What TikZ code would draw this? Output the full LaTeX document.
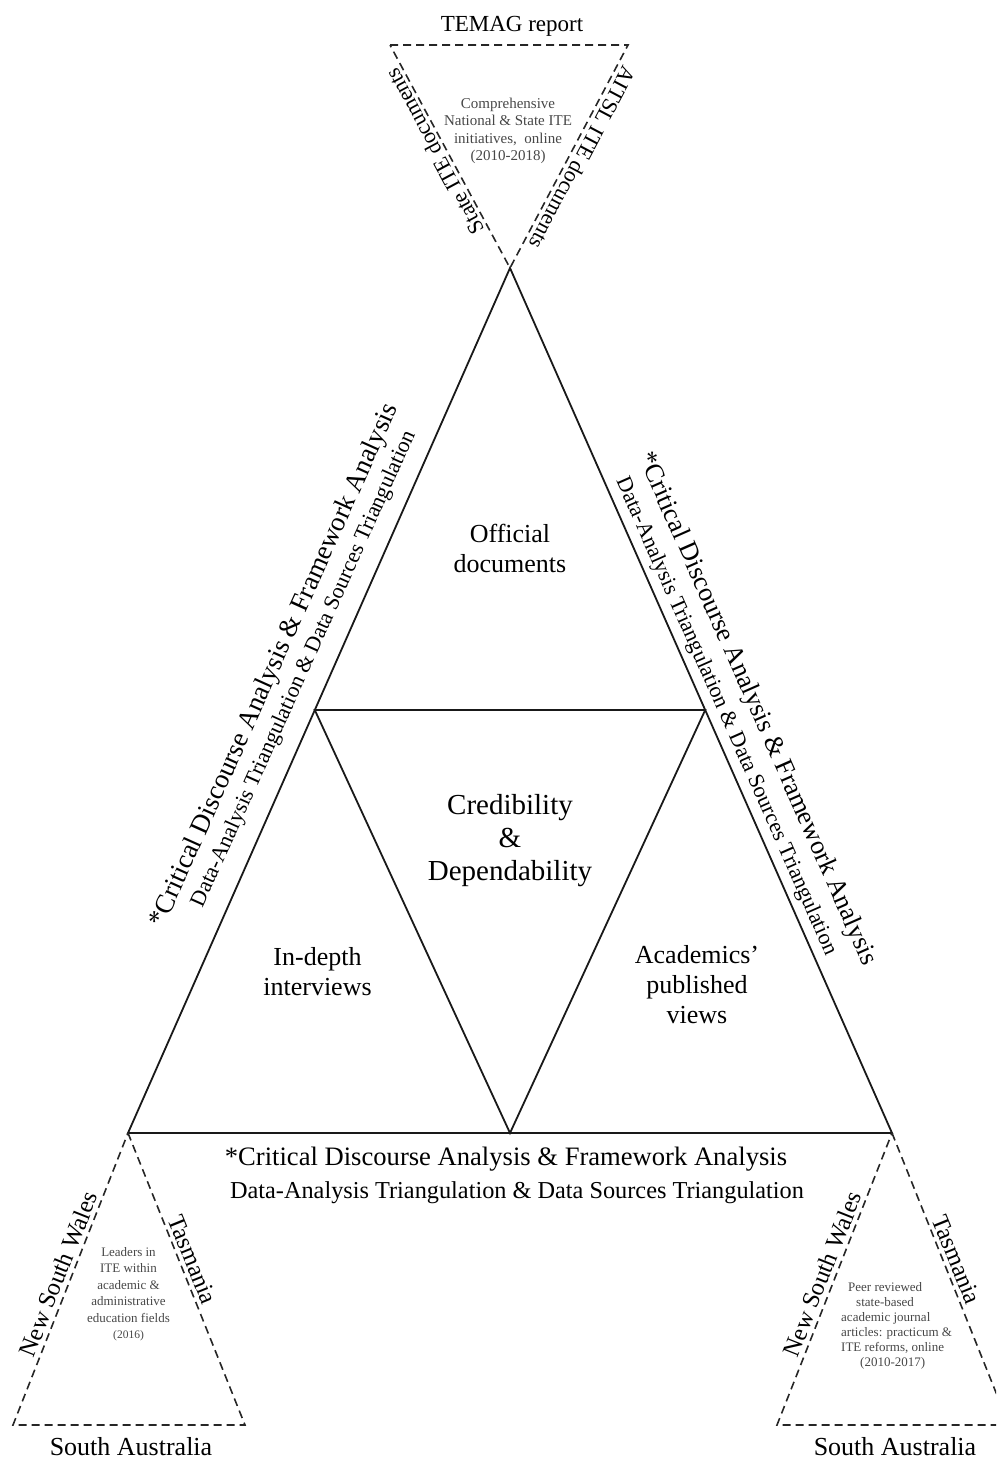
\documentclass[tikz,border=0pt]{standalone}
\usepackage{fontspec}
\setmainfont{Liberation Serif}
\usetikzlibrary{calc}
\begin{document}
\begin{tikzpicture}[x=1pt,y=-1pt,
  solidedge/.style={line width=1.8pt, draw=black!90, line join=miter},
  dashedge/.style={line width=1.6pt, draw=black!85, dash pattern=on 8pt off 5pt, line join=miter},
  region/.style={align=center, inner sep=0pt, anchor=base, font=\fontsize{26}{30}\selectfont},
  centre/.style={align=center, inner sep=0pt, anchor=base, font=\fontsize{29}{33}\selectfont},
  sidebig/.style={inner sep=0pt, anchor=base, font=\fontsize{27}{30}\selectfont},
  sidesmall/.style={inner sep=0pt, anchor=base, font=\fontsize{22}{26}\selectfont},
  edgelabel/.style={inner sep=0pt, anchor=base, font=\fontsize{22}{26}\selectfont},
  statelabel/.style={inner sep=0pt, anchor=base, font=\fontsize{24.5}{28}\selectfont},
  sourcenote/.style={inner sep=0pt, text=black!72, font=\fontsize{13}{16.5}\selectfont},
]
\useasboundingbox (0,0) rectangle (996,1461);
\clip (0,0) rectangle (996,1461);

% main triangle and the inverted inner triangle
\coordinate (A)  at (510,268);
\coordinate (BL) at (128,1133);
\coordinate (BR) at (892,1133);
\coordinate (IL) at ($(A)!0.511!(BL)$);
\coordinate (IR) at ($(A)!0.511!(BR)$);
\coordinate (IB) at (510,1133);
\draw[solidedge] (A) -- (BR) -- (BL) -- cycle;
\draw[solidedge] (IL) -- (IR) -- (IB) -- cycle;

% dashed source triangles
\coordinate (TL) at (390,45);
\coordinate (TR) at (628,45);
\coordinate (L1) at (13,1425);
\coordinate (L2) at (245,1425);
\coordinate (R1) at (777,1425);
\coordinate (R2) at (1009,1425);
\draw[dashedge] (TL) -- (TR) -- (A) -- cycle;
\draw[dashedge] (BL) -- (L2) -- (L1) -- cycle;
\draw[dashedge] (BR) -- (R2) -- (R1) -- cycle;

% region labels (placed by the baseline of their last line)
\node[region] (official) at (510,572) {Official\\documents};
\node[centre] (cred) at (510,880) {Credibility\\\&\\Dependability};
\node[region] (interviews) at (317.5,995) {In-depth\\interviews};
\node[region] (academics) at (697,1023) {Academics’\\published\\views};

% analysis labels along the three sides
\node[sidebig, rotate=65.8] (leftA) at ($(BL)!0.515!(A)!48pt!90:(A)$)
  {*Critical Discourse Analysis \& Framework Analysis};
\node[sidesmall, rotate=65.8] (leftB) at ($(BL)!0.524!(A)!21pt!90:(A)$)
  {Data-Analysis Triangulation \& Data Sources Triangulation};
\node[sidebig, font=\fontsize{26.4}{30}\selectfont, rotate=-66.17] (rightA) at ($(A)!0.532!(BR)!41pt!90:(BR)$)
  {*Critical Discourse Analysis \& Framework Analysis};
\node[sidesmall, rotate=-66.17] (rightB) at ($(A)!0.526!(BR)!11pt!90:(BR)$)
  {Data-Analysis Triangulation \& Data Sources Triangulation};
\node[sidebig, font=\fontsize{26.6}{30}\selectfont] (bottomA) at (506,1165)
  {*Critical Discourse Analysis \& Framework Analysis};
\node[sidebig, font=\fontsize{24.3}{30}\selectfont] (bottomB) at (517,1198)
  {Data-Analysis Triangulation \& Data Sources Triangulation};

% top source triangle
\node[edgelabel, font=\fontsize{23}{26}\selectfont] (temag) at (512,32) {TEMAG report};
\node[edgelabel, rotate=118.3] (stateite) at ($(A)!0.547!(TL)!4pt!90:(TL)$) {State ITE documents};
\node[edgelabel, rotate=-117.9] (aitsl) at ($(A)!0.52!(TR)!5pt!-90:(TR)$) {AITSL ITE documents};
\node[sourcenote, align=center, font=\fontsize{15}{17.5}\selectfont] (national) at (508,131)
  {Comprehensive\\National \& State ITE\\initiatives,~ online\\(2010-2018)};

% bottom-left source triangle
\node[statelabel, rotate=68.37] (nswL) at ($(L1)!0.5!(BL)!5pt!90:(BL)$) {New South Wales};
\node[statelabel, rotate=-68.0] (tasL) at ($(BL)!0.45!(L2)!5pt!90:(L2)$) {Tasmania};
\node[statelabel, font=\fontsize{26}{30}\selectfont] (saL) at (131,1455) {South Australia};
\node[sourcenote, align=center] (leaders) at (128.5,1294)
  {Leaders in\\ITE within\\academic \&\\administrative\\education fields\\{\fontsize{11.5}{16.5}\selectfont(2016)}};

% bottom-right source triangle
\node[statelabel, rotate=68.37] (nswR) at ($(R1)!0.5!(BR)!5pt!90:(BR)$) {New South Wales};
\node[statelabel, rotate=-68.0] (tasR) at ($(BR)!0.45!(R2)!5pt!90:(R2)$) {Tasmania};
\node[statelabel, font=\fontsize{26}{30}\selectfont] (saR) at (895,1455) {South Australia};
\node[sourcenote, align=left, anchor=north west, font=\fontsize{13}{15}\selectfont] (peer) at (841,1282)
  {\hspace*{7pt}Peer reviewed\\\hspace*{15pt}state-based\\academic journal\\articles: practicum \&\\ITE reforms, online\\\hspace*{19pt}(2010-2017)};
\end{tikzpicture}
\end{document}
